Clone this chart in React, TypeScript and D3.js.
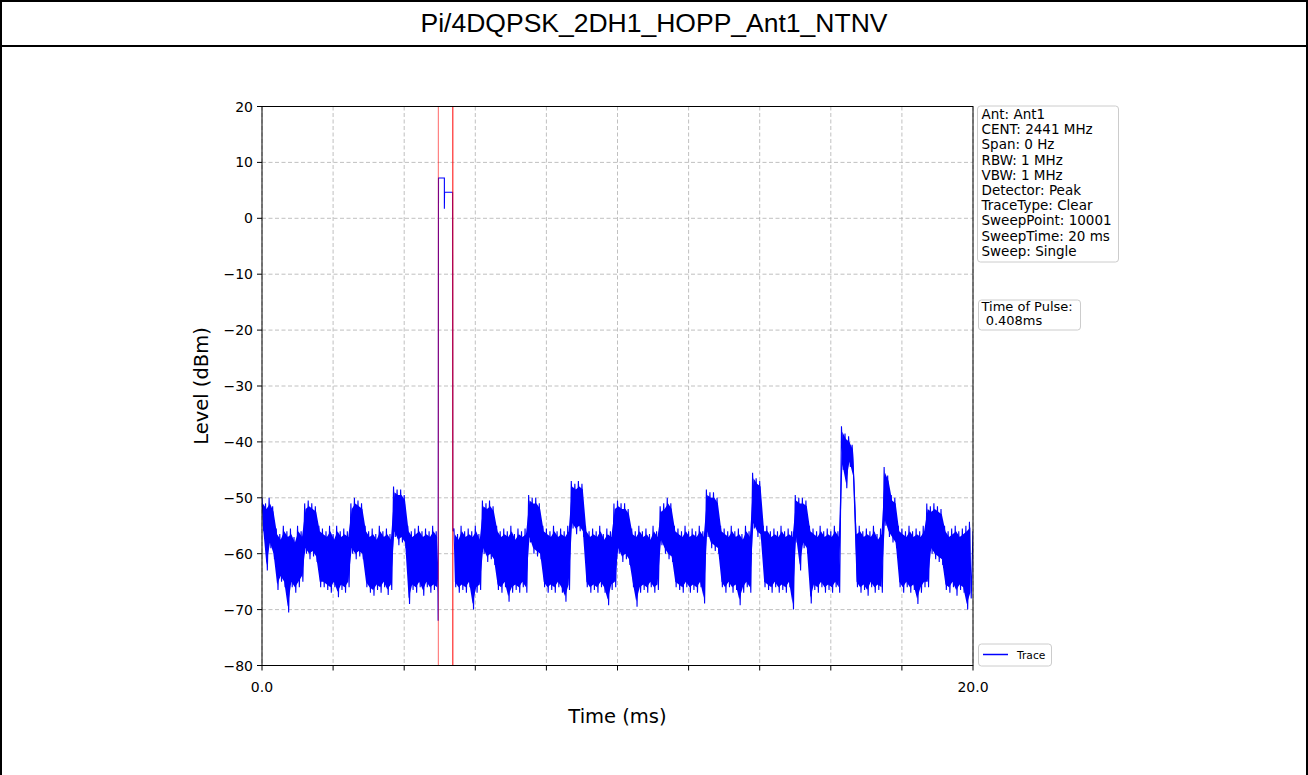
import React from "react";
import * as d3 from "d3";

// ---- data ----
const chartTitle = "Pi/4DQPSK_2DH1_HOPP_Ant1_NTNV";
const timeTicks = [0, 2, 4, 6, 8, 10, 12, 14, 16, 18, 20];
const timeTickLabels = ["0.0", "", "", "", "", "", "", "", "", "", "20.0"];
const levelTicks = [20, 10, 0, -10, -20, -30, -40, -50, -60, -70, -80];
const infoLines = [
    "Ant: Ant1",
    "CENT: 2441 MHz",
    "Span: 0 Hz",
    "RBW: 1 MHz",
    "VBW: 1 MHz",
    "Detector: Peak",
    "TraceType: Clear",
    "SweepPoint: 10001",
    "SweepTime: 20 ms",
    "Sweep: Single",
];
const pulseLines = ["Time of Pulse:", " 0.408ms"];
const markerTimes = [4.96, 5.368];

// trace envelope per 0.1 ms bin (max / min seen in the bin), null = pulse
const binStep = 0.1;
const traceHi: (number | null)[] = [
    -50, -51, -50, -51.5, -55.5, -56.5, -55, -56, -55.5, -57,
    -55, -56, -51, -50.5, -51, -51.5, -55, -55.5, -56, -55,
    -56.5, -55, -56, -55.5, -56, -51, -50, -50.5, -51, -55,
    -56, -55.5, -56.5, -55, -56, -55.5, -56.5, -48, -48.5, -48.5,
    -49.5, -55, -56, -55.5, -55, -56, -55.5, -56, -55, -56,
    null, null, null, null, -55.5, -56.5, -55, -56, -55.5, -56,
    -55, -56.5, -50.5, -51, -50.5, -51.5, -55, -56, -55.5, -56,
    -55, -56.5, -55.5, -56, -55.5, -49.5, -50, -50, -51, -55,
    -55.5, -56, -55, -56, -55.5, -56, -55, -47, -47.5, -47,
    -47.5, -55, -56, -55.5, -56, -55, -56.5, -55.5, -56, -51,
    -50.5, -51, -51, -52, -55.5, -56, -55, -56, -55.5, -56.5,
    -55, -56, -51.5, -51, -50, -51, -55, -55.5, -56, -55,
    -56, -55.5, -56, -55, -56, -48.5, -49, -49, -50, -55,
    -55.5, -56, -55, -56, -55.5, -56.5, -55, -56, -45.5, -46.5,
    -47, -55, -55, -56, -55.5, -56, -55, -56, -55.5, -56,
    -49.5, -50, -50, -50.5, -55, -55.5, -56, -55, -56, -55.5,
    -56, -55, -56, -37.2, -38.5, -39, -40.5, -55.5, -55, -56,
    -55.5, -56, -55, -56.5, -55.5, -44.5, -46, -49.5, -50, -55,
    -55.5, -56, -55, -56, -55.5, -56, -55, -51, -51.5, -51,
    -51.5, -52, -55, -56, -55.5, -55, -56, -55.5, -55, -54.3,
];
const traceLo: (number | null)[] = [
    -56, -63, -59, -61, -66.5, -65, -66, -70.5, -66, -67,
    -66, -65, -60, -61, -60.5, -61.5, -66, -66, -66.5, -67,
    -66, -67.8, -66.5, -67, -66, -60, -61, -60.5, -61, -66,
    -67, -67.5, -66.5, -67, -66, -67.4, -66.5, -57, -58.5, -58,
    -59, -69, -66.5, -67, -66, -67.5, -66, -67, -66.5, -67,
    null, null, null, null, -66, -67, -66.5, -67, -66, -70,
    -67, -66.5, -60, -61.5, -61, -62, -66.5, -67, -66, -68.6,
    -67, -66.5, -67, -66, -67, -58, -60, -60.5, -61, -66,
    -67, -66.5, -67, -66, -67, -68.6, -66.5, -55.5, -56.5, -56,
    -57, -66, -67, -66.5, -67, -66, -67, -69.2, -66.5, -66,
    -60, -61.5, -61, -62, -66, -69.5, -67, -66.5, -67, -66,
    -67, -66.5, -58.5, -60, -61, -61.5, -66, -66.5, -67, -66,
    -67, -66.5, -67, -66, -68.9, -57, -59, -59.5, -60, -66,
    -67, -66, -67, -66.5, -69.2, -67, -66, -67, -55.5, -57,
    -57.5, -66, -66.5, -67, -66, -67, -66.5, -67, -66, -70,
    -58, -63, -59, -60, -68.9, -66.5, -67, -66, -67, -66.5,
    -67, -66, -67, -45, -48.3, -44.5, -47, -66, -67, -66.5,
    -67.5, -66, -67, -66.5, -67, -55, -57, -58, -59, -66,
    -67, -66, -67, -66.5, -69, -67, -66, -66, -60, -61,
    -61.5, -62, -66.5, -67, -66, -67.5, -66.5, -67, -70, -68,
];
const traceEnd = -56;

// the hopping pulse between the two markers: [time ms, level dBm]
const pulseTrace: [number, number][] = [
    [4.955, -72], [4.96, -34], [4.965, 7.2], [5.13, 7.2], [5.13, 1.7],
    [5.135, 4.65], [5.36, 4.65], [5.368, -56],
];

const W = 1308;
const H = 775;
const plot = { left: 262, right: 973, top: 106.5, bottom: 665.5 };
const sans = "DejaVu Sans, sans-serif";

export default function App() {
    const x = d3.scaleLinear().domain([0, 20]).range([plot.left, plot.right]);
    const y = d3.scaleLinear().domain([-80, 20]).range([plot.bottom, plot.top]);

    // zigzag between the bin max and min, with the pulse spliced in
    const points: [number, number][] = [];
    traceHi.forEach((hi, i) => {
        const lo = traceLo[i];
        if (hi !== null && lo !== null) {
            points.push([i * binStep, hi]);
            points.push([i * binStep + binStep / 2, lo]);
        }
        if (i === 49) pulseTrace.forEach((p) => points.push(p));
    });
    points.push([20, traceEnd]);

    const line = d3.line<[number, number]>()
        .x((d) => x(d[0]))
        .y((d) => y(d[1]));

    // dense core of the trace: band between neighbouring bin extremes
    const bins = traceHi.map((hi, i) => ({ t: i * binStep + binStep / 4, hi, lo: traceLo[i] }));
    const band = d3.area<{ t: number; hi: number | null; lo: number | null }>()
        .defined((d) => d.hi !== null && d.lo !== null)
        .x((d) => x(d.t))
        .y0((d) => y((d.lo as number) + 1))
        .y1((d) => y((d.hi as number) - 1));

    const infoTop = 106;
    const infoSpacing = 15.2;

    return (
        <div style={{ position: "absolute", left: 0, top: 0 }}>
            <svg width={W} height={H} style={{ display: "block", background: "#fff" }}>
                {/* frame + title */}
                <rect x={1} y={1} width={W - 2} height={H + 10} fill="none" stroke="#000" strokeWidth={2} />
                <line x1={0} x2={W} y1={46} y2={46} stroke="#000" strokeWidth={2} />
                <text x={W / 2} y={32} textAnchor="middle" fontFamily="Liberation Sans, Arial, sans-serif" fontSize={26.5}>
                    {chartTitle}
                </text>

                {/* grid */}
                <g stroke="#b0b0b0" strokeWidth={0.8} strokeDasharray="4,2.5">
                    {levelTicks.map((v) => (
                        <line key={"gy" + v} x1={plot.left} x2={plot.right} y1={y(v)} y2={y(v)} />
                    ))}
                    {timeTicks.map((t) => (
                        <line key={"gx" + t} x1={x(t)} x2={x(t)} y1={plot.top} y2={plot.bottom} />
                    ))}
                </g>

                {/* trace */}
                <defs>
                    <clipPath id="plotClip">
                        <rect x={plot.left} y={plot.top} width={plot.right - plot.left} height={plot.bottom - plot.top} />
                    </clipPath>
                </defs>
                <g clipPath="url(#plotClip)">
                    <path d={band(bins) || ""} fill="#0000ff" stroke="none" />
                    <path d={line(points) || ""} fill="none" stroke="#0000ff" strokeWidth={1.1} />
                </g>

                {/* pulse markers */}
                {markerTimes.map((t, i) => (
                    <line key={"m" + t} x1={x(t)} x2={x(t)} y1={plot.top} y2={plot.bottom} stroke="#ff0000"
                        strokeOpacity={i === 0 ? 0.6 : 1} strokeWidth={1} />
                ))}

                {/* axes frame */}
                <rect x={plot.left} y={plot.top} width={plot.right - plot.left} height={plot.bottom - plot.top}
                    fill="none" stroke="#000" strokeWidth={1} />

                {/* y ticks */}
                {levelTicks.map((v) => (
                    <g key={"ty" + v}>
                        <line x1={plot.left - 5} x2={plot.left} y1={y(v)} y2={y(v)} stroke="#000" strokeWidth={1} />
                        <text x={plot.left - 9} y={y(v) + 5} textAnchor="end" fontFamily={sans} fontSize={14}>
                            {v < 0 ? "\u2212" + Math.abs(v) : String(v)}
                        </text>
                    </g>
                ))}
                {/* x ticks */}
                {timeTicks.map((t, i) => (
                    <g key={"tx" + t}>
                        <line x1={x(t)} x2={x(t)} y1={plot.bottom} y2={plot.bottom + 5} stroke="#000" strokeWidth={1} />
                        <text x={x(t)} y={plot.bottom + 26} textAnchor="middle" fontFamily={sans} fontSize={14}>
                            {timeTickLabels[i]}
                        </text>
                    </g>
                ))}

                {/* axis labels */}
                <text x={(plot.left + plot.right) / 2} y={723} textAnchor="middle" fontFamily={sans} fontSize={19.5}>
                    Time (ms)
                </text>
                <text transform={`translate(208,${(plot.top + plot.bottom) / 2}) rotate(-90)`} textAnchor="middle"
                    fontFamily={sans} fontSize={19.5}>
                    Level (dBm)
                </text>

                {/* info box */}
                <rect x={977.5} y={infoTop} width={141} height={156} rx={3} fill="#fff" fillOpacity={0.8}
                    stroke="#cccccc" strokeWidth={1} />
                {infoLines.map((s, i) => (
                    <text key={s} x={981.5} y={infoTop + 13 + i * infoSpacing} fontFamily={sans} fontSize={13.5}
                        style={{ whiteSpace: "pre" }}>
                        {s}
                    </text>
                ))}

                {/* pulse box */}
                <rect x={978.5} y={300} width={102} height={30} rx={3} fill="#fff" fillOpacity={0.8}
                    stroke="#cccccc" strokeWidth={1} />
                {pulseLines.map((s, i) => (
                    <text key={s} x={981.5} y={311 + i * 13.5} fontFamily={sans} fontSize={13}
                        style={{ whiteSpace: "pre" }}>
                        {s}
                    </text>
                ))}

                {/* legend */}
                <rect x={978.5} y={644} width={73} height={22} rx={3} fill="#fff" fillOpacity={0.8}
                    stroke="#cccccc" strokeWidth={1} />
                <line x1={983} x2={1008} y1={654.5} y2={654.5} stroke="#0000ff" strokeWidth={1.5} />
                <text x={1017} y={658.5} fontFamily={sans} fontSize={10.7}>Trace</text>
            </svg>
        </div>
    );
}
